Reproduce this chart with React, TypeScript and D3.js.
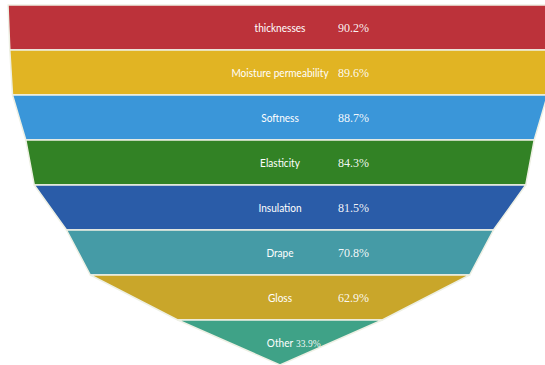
import React from "react";
import * as d3 from "d3";

const categories = [
  "thicknesses",
  "Moisture permeability",
  "Softness",
  "Elasticity",
  "Insulation",
  "Drape",
  "Gloss",
  "Other",
];
const values = [90.2, 89.6, 88.7, 84.3, 81.5, 70.8, 62.9, 33.9];
const valueLabels = ["90.2%", "89.6%", "88.7%", "84.3%", "81.5%", "70.8%", "62.9%", "33.9%"];
const colors = [
  "#bc323a",
  "#e1b423",
  "#3a96d9",
  "#328225",
  "#2a5ca8",
  "#459ba6",
  "#c9a62a",
  "#3fa287",
];

const W = 545;
const H = 365;
const CX = 280;

export default function App() {
  const y = d3.scaleBand<string>().domain(categories).range([5, 365]).padding(0);
  const w = d3.scaleLinear().domain([0, d3.max(values) as number]).range([0, 544]);

  return (
    <svg
      width={W}
      height={H}
      style={{ position: "absolute", left: 0, top: 0, background: "#fff" }}
    >
      {categories.map((c, i) => {
        const top = y(c) as number;
        const bot = top + y.bandwidth();
        const wt = w(values[i]);
        const wb = i < values.length - 1 ? w(values[i + 1]) : 0;
        const path = d3.path();
        path.moveTo(CX - wt / 2, top);
        path.lineTo(CX + wt / 2, top);
        path.lineTo(CX + wb / 2, bot);
        path.lineTo(CX - wb / 2, bot);
        path.closePath();
        return (
          <path
            key={c}
            d={path.toString()}
            fill={colors[i]}
            stroke="#eef0e4"
            strokeWidth={1.5}
            strokeLinejoin="round"
          />
        );
      })}
      {categories.map((c, i) => {
        const mid = (y(c) as number) + y.bandwidth() / 2;
        const last = i === categories.length - 1;
        return (
          <g key={"t" + c}>
            <text
              transform={`translate(${CX},${mid + 4}) scale(0.84,1)`}
              textAnchor="middle"
              fill="#fff"
              fontFamily="Lato, 'Open Sans', sans-serif"
              fontSize={12}
            >
              {c}
            </text>
            <text
              x={last ? 296 : 338}
              y={mid + 4.5}
              textAnchor="start"
              fill="#fff"
              fillOpacity={0.95}
              fontFamily="'Liberation Serif', 'Times New Roman', 'DejaVu Serif', serif"
              fontWeight="normal"
              fontSize={last ? 9.5 : 12}
            >
              {valueLabels[i]}
            </text>
          </g>
        );
      })}
    </svg>
  );
}
